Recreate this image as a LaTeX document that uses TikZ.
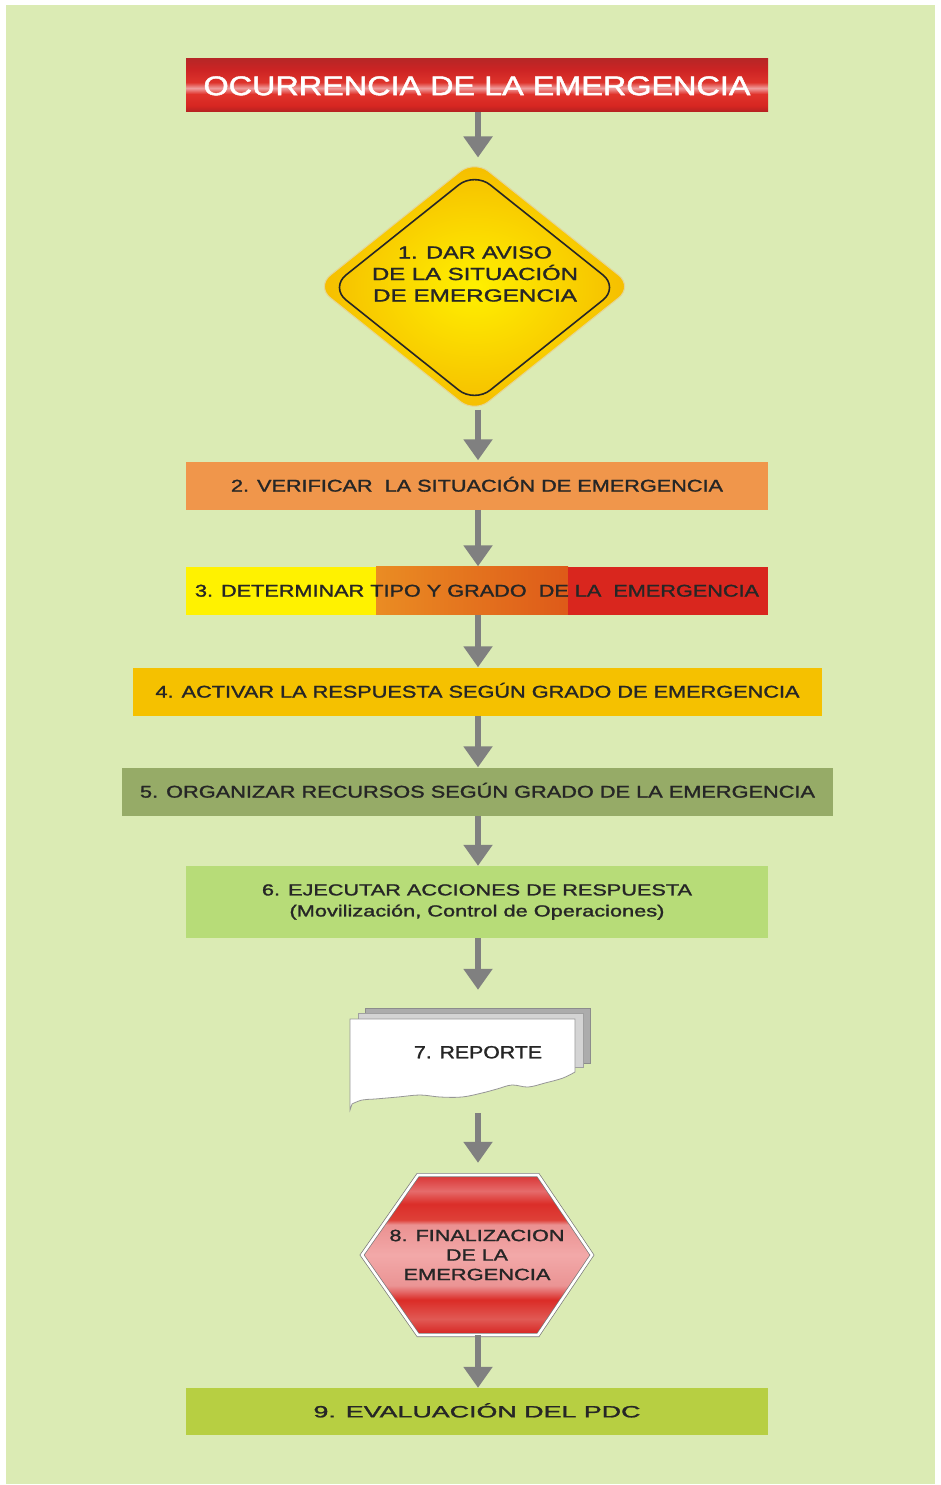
\documentclass[tikz,border=0pt]{standalone}
\usepackage{fontspec}
\setmainfont{Liberation Sans}
\newfontfamily\heavy[FakeBold=1.3]{Liberation Sans}
\newfontfamily\heavytitle[FakeBold=1.6]{Liberation Sans}
\usetikzlibrary{arrows.meta,shapes.geometric,calc}
\definecolor{bg}{RGB}{219,235,180}
\definecolor{txt}{RGB}{38,38,38}
\definecolor{arrgray}{RGB}{128,128,128}
\definecolor{c2}{RGB}{240,150,75}
\definecolor{c3y}{RGB}{255,242,0}
\definecolor{c3a}{RGB}{234,140,35}
\definecolor{c3b}{RGB}{222,90,25}
\definecolor{c3r}{RGB}{217,38,30}
\definecolor{c4}{RGB}{245,193,0}
\definecolor{c5}{RGB}{150,171,103}
\definecolor{c6}{RGB}{183,220,120}
\definecolor{c9}{RGB}{183,207,66}
\definecolor{yel1}{RGB}{255,240,0}
\definecolor{yel2}{RGB}{245,188,0}
\definecolor{diaedge}{RGB}{228,214,150}
\definecolor{g3}{RGB}{172,172,172}
\definecolor{g3d}{RGB}{140,140,140}
\definecolor{g2}{RGB}{212,212,212}
\definecolor{g2d}{RGB}{160,160,160}
\definecolor{sheetedge}{RGB}{150,150,150}
\definecolor{hexedge}{RGB}{120,120,120}
\pgfdeclareverticalshading{titleshade}{100bp}{rgb(0bp)=(0.70,0.13,0.13); rgb(25bp)=(0.70,0.13,0.13); rgb(31bp)=(0.84,0.15,0.13); rgb(42bp)=(0.88,0.20,0.17); rgb(47.5bp)=(0.94,0.62,0.62); rgb(53bp)=(0.87,0.20,0.17); rgb(65bp)=(0.80,0.14,0.14); rgb(75bp)=(0.72,0.15,0.15); rgb(100bp)=(0.72,0.15,0.15)}
\pgfdeclareverticalshading{hexshade}{100bp}{rgb(0bp)=(0.84,0.13,0.12); rgb(25bp)=(0.84,0.13,0.12); rgb(30bp)=(0.88,0.35,0.33); rgb(36bp)=(0.86,0.17,0.15); rgb(39bp)=(0.90,0.45,0.45); rgb(40.5bp)=(0.92,0.58,0.58); rgb(50bp)=(0.95,0.66,0.66); rgb(59.5bp)=(0.92,0.57,0.57); rgb(61bp)=(0.87,0.25,0.22); rgb(66bp)=(0.86,0.18,0.16); rgb(70bp)=(0.90,0.42,0.42); rgb(75bp)=(0.85,0.20,0.20); rgb(100bp)=(0.85,0.20,0.20)}
\newcommand\fw[2]{\resizebox{#1pt}{\height}{#2}}
\begin{document}
\begin{tikzpicture}[x=1pt,y=-1pt,
  bxbase/.style={rectangle, inner sep=0pt, text=txt, font=\heavy\fontsize{17}{20}\selectfont},
  bx/.style={bxbase, text height=12.2pt, text depth=0pt},
  arr/.style={draw=arrgray, line width=6pt, -{Triangle[width=28pt,length=21pt]}}]
\useasboundingbox (0,0) rectangle (940,1485);
\fill[white] (0,0) rectangle (940,1485);
\fill[bg] (6,5) rectangle (935,1484);
\coordinate (ax) at (478,0);
% title
\node[rectangle, inner sep=0pt, minimum width=582pt, minimum height=53pt, shading=titleshade,
  text=white, font=\heavytitle\fontsize{27}{30}\selectfont, text height=19.3pt, text depth=0pt] (t) at (477,85.5)
  {\fw{547}{OCURRENCIA DE LA EMERGENCIA}};
% diamond
\node[diamond, inner sep=0pt, minimum width=317pt, minimum height=253pt, rounded corners=18pt,
  inner color=yel1, outer color=yel2, draw=diaedge, line width=1pt] (dia) at (474.5,286.5) {};
\node[diamond, inner sep=0pt, minimum width=289pt, minimum height=231pt, rounded corners=20pt,
  draw=black!85, line width=1.6pt] (diain) at (474.5,287.5) {};
\node[align=center, inner sep=0pt, text=txt, font=\heavy\fontsize{17.5}{21.5}\selectfont] (d1t) at (475,274)
  {\fw{154}{1. DAR AVISO}\\\fw{206}{DE LA SITUACIÓN}\\\fw{204}{DE EMERGENCIA}};
% box 2
\node[bx, fill=c2, minimum width=582pt, minimum height=48pt] (b2) at (477,485.5)
  {\fw{492}{2. VERIFICAR~~LA SITUACIÓN DE EMERGENCIA}};
% box 3
\node[bx, minimum width=582pt, minimum height=48pt,
  path picture={
    \fill[c3y] (path picture bounding box.north west) rectangle ([xshift=190pt]path picture bounding box.south west);
    \shade[left color=c3a, right color=c3b] ([xshift=190pt]path picture bounding box.north west) rectangle ([xshift=382pt]path picture bounding box.south west);
    \fill[c3r] ([xshift=382pt]path picture bounding box.north west) rectangle (path picture bounding box.south east);
  }] (b3) at (477,590.5)
  {\fw{564}{3. DETERMINAR TIPO Y GRADO~~DE LA~~EMERGENCIA}};
% box 4
\node[bx, fill=c4, minimum width=689pt, minimum height=48pt] (b4) at (477.5,691.5)
  {\fw{644}{4. ACTIVAR LA RESPUESTA SEGÚN GRADO DE EMERGENCIA}};
% box 5
\node[bx, fill=c5, minimum width=711pt, minimum height=48pt] (b5) at (477.5,791.5)
  {\fw{675}{5. ORGANIZAR RECURSOS SEGÚN GRADO DE LA EMERGENCIA}};
% box 6
\node[bxbase, fill=c6, align=center, minimum width=582pt, minimum height=72pt,
  font=\heavy\fontsize{16}{21}\selectfont] (b6) at (477,902)
  {\fw{430}{6. EJECUTAR ACCIONES DE RESPUESTA}\\\fw{375}{(Movilización, Control de Operaciones)}};
% report
\filldraw[fill=g3, draw=g3d, line width=0.8pt] (365,1008) rectangle (590,1063);
\filldraw[fill=g2, draw=g2d, line width=0.8pt] (358,1013) rectangle (583,1067);
\filldraw[fill=white, draw=sheetedge, line width=0.8pt] (350,1019) -- (575,1019) -- (575,1072)
  -- plot[smooth, tension=0.6] coordinates {(575,1072) (563,1078) (545,1083) (528,1087) (512,1085) (497,1089) (482,1093) (462,1097) (440,1097) (420,1095) (398,1097) (375,1099) (362,1100) (352,1104)}
  -- (350,1110) -- cycle;
\node[rectangle, inner sep=0pt, minimum width=240pt, minimum height=103pt] (rep) at (470,1058.5) {};
\node[inner sep=0pt, text=txt, font=\heavy\fontsize{17.7}{20}\selectfont, text height=12.7pt, text depth=0pt] (rept) at (478,1052)
  {\fw{128}{7. REPORTE}};
% hexagon
\shade[shading=hexshade] (362,1255) -- (418,1175) -- (538,1175) -- (592,1255) -- (538,1335) -- (418,1335) -- cycle;
\draw[hexedge, line width=4pt, line join=miter] (362,1255) -- (418,1175) -- (538,1175) -- (592,1255) -- (538,1335) -- (418,1335) -- cycle;
\draw[white, line width=2.6pt, line join=miter] (362,1255) -- (418,1175) -- (538,1175) -- (592,1255) -- (538,1335) -- (418,1335) -- cycle;
\node[align=center, inner sep=0pt, minimum width=230pt, minimum height=160pt, text=txt,
  font=\heavy\fontsize{16.3}{19.5}\selectfont] (hex) at (477,1255)
  {\fw{175}{8. FINALIZACION}\\\fw{62}{DE LA}\\\fw{147}{EMERGENCIA}};
% box 9
\node[bx, fill=c9, minimum width=582pt, minimum height=47pt, font=\heavy\fontsize{16.3}{20}\selectfont, text height=11.7pt] (b9) at (477,1411.5)
  {\fw{327}{9. EVALUACIÓN DEL PDC}};
% arrows
\draw[arr] (t.south -| ax) -- ([yshift=2pt]dia.north -| ax);
\draw[arr] ([yshift=4pt]dia.south -| ax) -- ([yshift=1pt]b2.north -| ax);
\draw[arr] (b2.south -| ax) -- (b3.north -| ax);
\draw[arr] (b3.south -| ax) -- (b4.north -| ax);
\draw[arr] (b4.south -| ax) -- (b5.north -| ax);
\draw[arr] (b5.south -| ax) -- (b6.north -| ax);
\draw[arr] (b6.south -| ax) -- ([yshift=17pt]rep.north -| ax);
\draw[arr] ([yshift=-3pt]rep.south -| ax) -- ([yshift=12pt]hex.north -| ax);
\draw[arr] (hex.south -| ax) -- (b9.north -| ax);
\end{tikzpicture}
\end{document}
